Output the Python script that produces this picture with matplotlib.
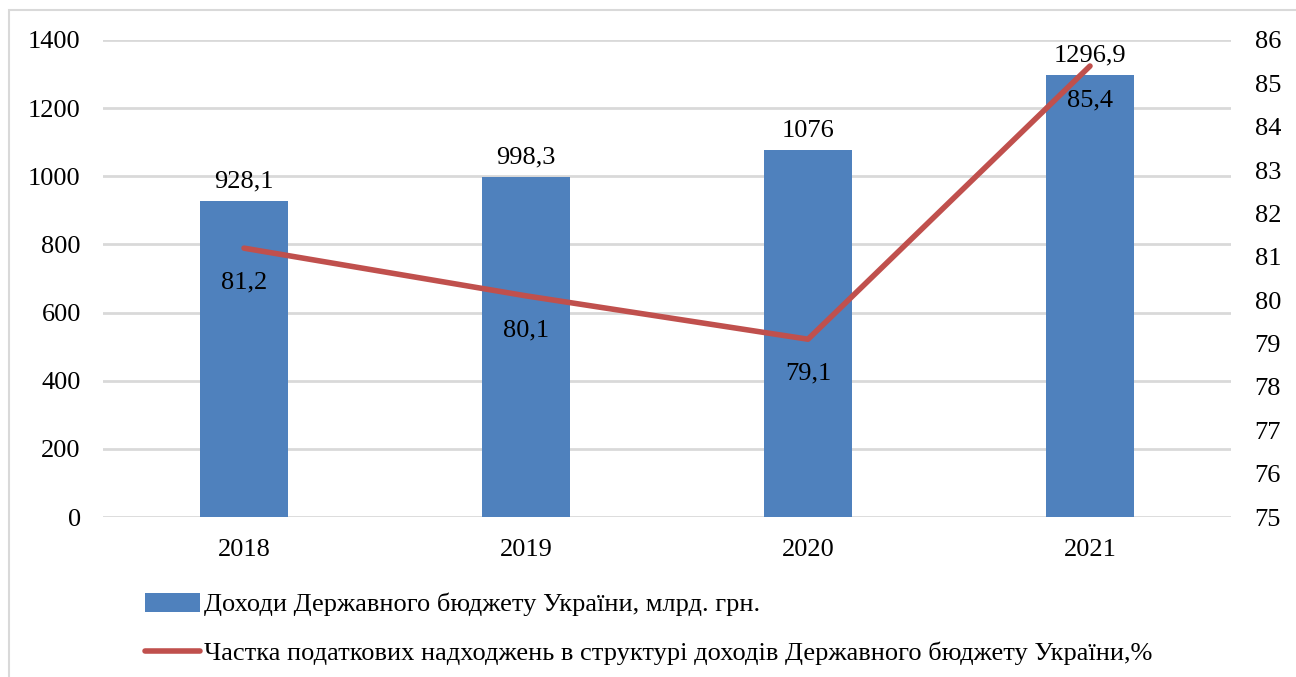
#!/usr/bin/env python3

import numpy as np
import matplotlib.pyplot as plt
from matplotlib.patches import Rectangle

years = ["2018", "2019", "2020", "2021"]
revenue = [928.1, 998.3, 1076, 1296.9]
tax_share = [81.2, 80.1, 79.1, 85.4]
revenue_labels = ["928,1", "998,3", "1076", "1296,9"]
share_labels = ["81,2", "80,1", "79,1", "85,4"]

bar_name = "Доходи Державного бюджету України, млрд. грн."
line_name = "Частка податкових надходжень в структурі доходів Державного бюджету України,%"

BLUE = "#4F81BD"
RED = "#C0504D"
GRID = "#D9D9D9"


def main():
    plt.rcParams["font.family"] = ["Liberation Serif", "DejaVu Serif"]
    fs = 19

    fig = plt.figure(figsize=(12.96, 6.77), dpi=100)
    ax = fig.add_axes([103 / 1296, 1 - 517 / 677, 1128 / 1296, 477 / 677])
    ax2 = ax.twinx()

    x = np.arange(len(years))
    bars = ax.bar(x, revenue, width=0.31, color=BLUE, zorder=2, label=bar_name)
    ax.set_xlim(-0.5, len(years) - 0.5)
    ax.set_ylim(0, 1400)
    ax.set_yticks(range(0, 1401, 200))
    ax.set_xticks(x)
    ax.set_xticklabels(years)
    ax.yaxis.grid(True, color=GRID, linewidth=2, zorder=0)
    ax.set_axisbelow(True)
    for a in (ax, ax2):
        for s in a.spines.values():
            s.set_visible(False)
        a.tick_params(length=0, labelsize=fs)
    ax.tick_params(axis="y", pad=16)
    ax.tick_params(axis="x", pad=16)
    ax2.tick_params(axis="y", pad=17)

    for b, lab in zip(bars, revenue_labels):
        ax.annotate(lab, (b.get_x() + b.get_width() / 2, b.get_height()),
                    xytext=(0, 6), textcoords="offset points",
                    ha="center", va="bottom", fontsize=fs, zorder=5)

    line, = ax2.plot(x, tax_share, color=RED, linewidth=4, zorder=3,
                     solid_capstyle="round", label=line_name)
    ax2.set_ylim(75, 86)
    ax2.set_yticks(range(75, 87))
    for xi, v, lab in zip(x, tax_share, share_labels):
        ax2.annotate(lab, (xi, v), xytext=(0, -25), textcoords="offset points",
                     ha="center", va="center", fontsize=fs, zorder=5)

    ax.set_zorder(ax2.get_zorder() - 1)
    ax.patch.set_visible(False)

    fig.legend([bars, line], [bar_name, line_name], loc="upper left",
               bbox_to_anchor=(145 / 1296, 1 - 593 / 677), frameon=False,
               fontsize=fs, handlelength=2.1, handletextpad=0.12,
               labelspacing=0.95, borderaxespad=0, borderpad=0)

    fig.patches.append(Rectangle((9 / 1296, -0.1), 1.2, 1 - 10 / 677 + 0.1,
                                 transform=fig.transFigure, fill=False,
                                 edgecolor=GRID, linewidth=1.5))

    fig.savefig("out.png", dpi=100)


if __name__ == "__main__":
    main()
